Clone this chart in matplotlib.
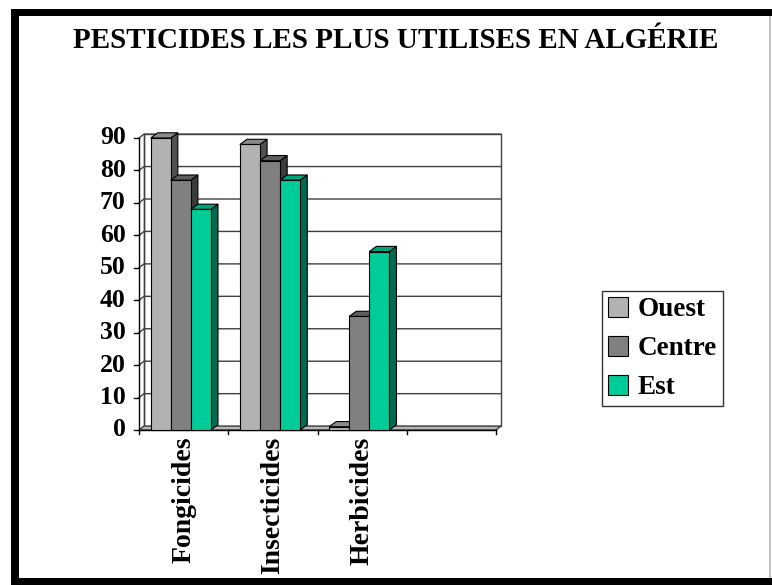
import matplotlib.pyplot as plt
from matplotlib.patches import Polygon, Rectangle, Patch

# data
categories = ["Fongicides", "Insecticides", "Herbicides", ""]
series = ["Ouest", "Centre", "Est"]
ouest = [90, 88, 1]
centre = [77, 83, 35]
est = [68, 77, 55]
yticks = list(range(0, 91, 10))
title = "PESTICIDES LES PLUS UTILISES EN ALGÉRIE"

front_col = ["#b2b2b2", "#808080", "#00cc99"]
top_col = ["#8a8a8a", "#5e5e5e", "#00a47c"]
side_col = ["#505050", "#3c3c3c", "#006b50"]

plt.rcParams['font.family'] = ['Liberation Serif', 'DejaVu Serif']
plt.rcParams['font.weight'] = 'bold'

W, H = 772, 585
fig = plt.figure(figsize=(W / 100, H / 100), dpi=100)
ax = fig.add_axes([139 / W, 1 - 430 / H, 357 / W, 292 / H])
ax.set_xlim(0, len(categories))
ax.set_ylim(0, 90)
ax.axis('off')

ncat = len(categories)
dxw, dyw = 0.056, 1.2     # back wall offset (3d look)
dxb, dyb = 0.08, 1.6      # bar depth
bw = 0.225                # bar width
off = 0.13                # gap before first bar in a category
line = "#404040"

# back wall + gridlines
ax.add_patch(Rectangle((dxw, dyw), ncat, 90, fc="white", ec=line, lw=1, zorder=1, clip_on=False))
for v in yticks[1:]:
    ax.plot([0, dxw, ncat + dxw], [v, v + dyw, v + dyw], color=line, lw=1, zorder=1.5, clip_on=False)
ax.plot([dxw, dxw], [dyw, 90 + dyw], color=line, lw=1, zorder=1.5, clip_on=False)

# floor
ax.add_patch(Polygon([(0, 0), (ncat, 0), (ncat + dxw, dyw), (dxw, dyw)], closed=True,
                     fc="#b8b8b8", ec=line, lw=1, zorder=2, clip_on=False))

# y axis
ax.plot([0, 0], [0, 90], color="black", lw=1, zorder=2, clip_on=False)
for v in yticks:
    ax.plot([-0.06, 0], [v, v], color="black", lw=1, clip_on=False)
    ax.text(-0.15, v, str(v), ha="right", va="center", fontsize=18.5, fontweight="bold")

# x axis
ax.plot([0, ncat], [0, 0], color="black", lw=1, zorder=2.5, clip_on=False)
for i in range(ncat + 1):
    ax.plot([i, i], [0, -1.3], color="black", lw=1, clip_on=False)
for i, cat in enumerate(categories):
    ax.text(i + 0.5, -2.0, cat, rotation=90, ha="center", va="top", fontsize=20, fontweight="bold")

# 3d-looking bars
z = 3
for i in range(len(ouest)):
    for k, vals in enumerate([ouest, centre, est]):
        v = vals[i]
        x0 = i + off + k * bw
        x1 = x0 + bw
        ax.add_patch(Polygon([(x1, 0), (x1 + dxb, dyb), (x1 + dxb, v + dyb), (x1, v)], closed=True,
                             fc=side_col[k], ec="black", lw=0.8, zorder=z, clip_on=False))
        ax.add_patch(Polygon([(x0, v), (x1, v), (x1 + dxb, v + dyb), (x0 + dxb, v + dyb)], closed=True,
                             fc=top_col[k], ec="black", lw=0.8, zorder=z, clip_on=False))
        ax.bar(x0, v, width=bw, align="edge", color=front_col[k], edgecolor="black", lw=0.8,
               zorder=z + 0.5, clip_on=False)
        z += 1

# legend
handles = [Patch(fc=front_col[k], ec="black", lw=0.8) for k in range(3)]
leg = fig.legend(handles, series, loc="upper left", bbox_to_anchor=(602 / W, 1 - 291 / H),
                 frameon=True, fancybox=False, edgecolor="black",
                 prop=dict(weight="bold", size=19.5), handlelength=0.75, handleheight=0.75,
                 handletextpad=0.35, labelspacing=0.5, borderpad=0.22, borderaxespad=0)
leg.get_frame().set_linewidth(1)

fig.text(396 / W, 1 - 41 / H, title, ha="center", va="center", fontsize=21, fontweight="bold")

# black frame around the slide
def px_rect(x, y, w, h, c):
    fig.add_artist(Rectangle((x / W, 1 - (y + h) / H), w / W, h / H, fc=c, ec="none",
                             transform=fig.transFigure))

px_rect(11, 9, 8, 576, "black")
px_rect(11, 9, 761, 7, "black")
px_rect(11, 578, 761, 7, "black")
px_rect(769, 16, 2, 562, "#c0c0c0")

fig.savefig("out.png", dpi=100)
